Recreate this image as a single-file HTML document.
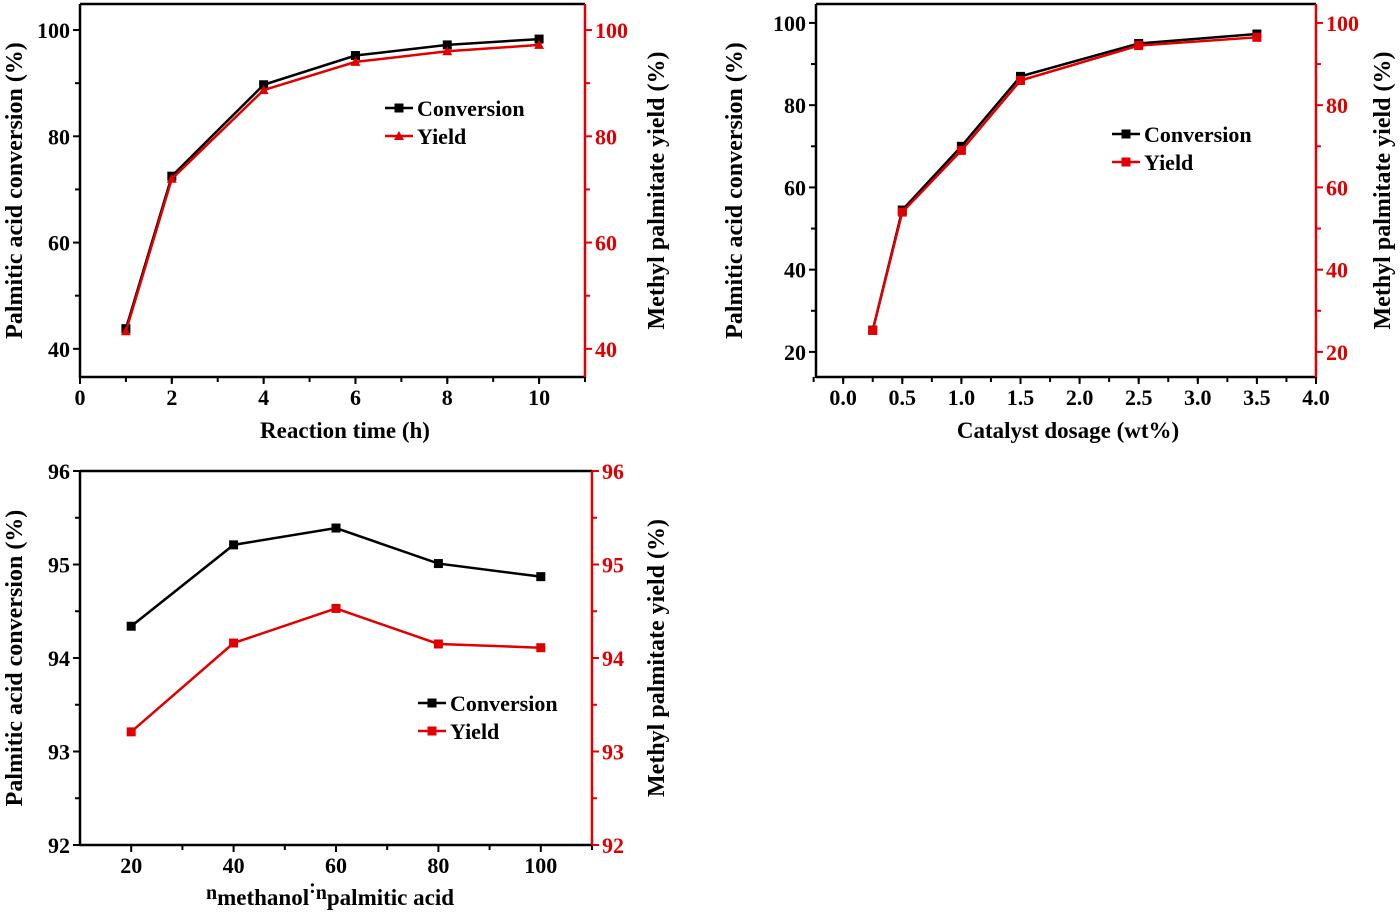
<!DOCTYPE html>
<html><head><meta charset="utf-8">
<style>
html,body{margin:0;padding:0;background:#fff;}
svg text{font-family:"Liberation Serif",serif;font-weight:bold;}
</style></head>
<body>
<svg id="root" width="1400" height="916" viewBox="0 0 1400 916" xmlns="http://www.w3.org/2000/svg"></svg>
<script>
// ---- Chart A: reaction time ----
const timeCats = [1, 2, 4, 6, 8, 10];
const timeConv = [43.8, 72.5, 89.7, 95.2, 97.2, 98.3];
const timeYield = [43.3, 72.0, 88.7, 94.0, 96.0, 97.2];
const timeXTicks = [0, 2, 4, 6, 8, 10];
const timeYTicks = [40, 60, 80, 100];
// ---- Chart B: catalyst dosage ----
const doseCats = [0.25, 0.5, 1.0, 1.5, 2.5, 3.5];
const doseConv = [25.3, 54.5, 70.0, 87.0, 95.0, 97.3];
const doseYield = [25.2, 54.0, 69.0, 86.0, 94.5, 96.5];
const doseXTicks = ["0.0","0.5","1.0","1.5","2.0","2.5","3.0","3.5","4.0"];
const doseYTicks = [20, 40, 60, 80, 100];
// ---- Chart C: molar ratio ----
const ratioCats = [20, 40, 60, 80, 100];
const ratioConv = [94.34, 95.21, 95.39, 95.01, 94.87];
const ratioYield = [93.21, 94.16, 94.53, 94.15, 94.11];
const ratioXTicks = [20, 40, 60, 80, 100];
const ratioYTicks = [92, 93, 94, 95, 96];

const NS = "http://www.w3.org/2000/svg";
const root = document.getElementById('root');
const RED = "#e00000";
function mk(tag, attrs, parent){
  const e = document.createElementNS(NS, tag);
  for (const k in attrs) e.setAttribute(k, attrs[k]);
  (parent||root).appendChild(e);
  return e;
}
function marker(g, shape, x, y, color){
  let m;
  if (shape === 'tri') {
    m = mk('polygon', {points:`${x},${y-5} ${x-5},${y+4} ${x+5},${y+4}`, fill:color}, g);
  } else {
    m = mk('rect', {x:x-4.5, y:y-4.5, width:9, height:9, fill:color}, g);
  }
  return m;
}
function chart(o){
  const g = mk('g', {});
  
  
  const L=o.L,R=o.R,T=o.T,B=o.B;
  const sx = v => L + (v - o.xmin) / (o.xmax - o.xmin) * (R - L);
  const sy = v => B - (v - o.ymin) / (o.ymax - o.ymin) * (B - T);
  mk('line',{x1:L,y1:T,x2:R,y2:T,stroke:'#000','stroke-width':2.5},g);
  const la = mk('line',{x1:L,y1:T,x2:L,y2:B+1,stroke:'#000','stroke-width':2.5},g);
   
  const xa = mk('line',{x1:L,y1:B,x2:R,y2:B,stroke:'#000','stroke-width':2.5},g);
   
  const ra = mk('line',{x1:R,y1:T,x2:R,y2:B+1,stroke:RED,'stroke-width':2.5},g);
   
  for (let v = o.xminor0; v <= o.xmax + 1e-9; v += o.xminor) {
    mk('line',{x1:sx(v),y1:B,x2:sx(v),y2:B+5,stroke:'#000','stroke-width':2},g);
  }
  o.xticks.forEach(t => {
    const v = parseFloat(t);
    mk('line',{x1:sx(v),y1:B,x2:sx(v),y2:B+7,stroke:'#000','stroke-width':2},g);
    const tx = mk('text',{x:sx(v),y:B+28,'text-anchor':'middle','font-size':22,fill:'#000'},g);
    tx.textContent = t;
     
  });
  for (let v = o.yminor0; v <= o.ymax + 1e-9; v += o.yminor) {
    mk('line',{x1:L,y1:sy(v),x2:L-5,y2:sy(v),stroke:'#000','stroke-width':2},g);
    mk('line',{x1:R,y1:sy(v),x2:R+5,y2:sy(v),stroke:RED,'stroke-width':2},g);
  }
  o.yticks.forEach(v => {
    mk('line',{x1:L,y1:sy(v),x2:L-7,y2:sy(v),stroke:'#000','stroke-width':2},g);
    mk('line',{x1:R,y1:sy(v),x2:R+7,y2:sy(v),stroke:RED,'stroke-width':2},g);
    const a = mk('text',{x:L-10,y:sy(v)+8,'text-anchor':'end','font-size':22,fill:'#000'},g);
    a.textContent = v;
     
    const b = mk('text',{x:R+10,y:sy(v)+8,'text-anchor':'start','font-size':22,fill:RED},g);
    b.textContent = v;
     
  });
  const series = [[o.conv,'#000','sq','conversion'],[o.yld,RED,o.yshape,'yield']];
  series.forEach(([vals,col,shape,nm]) => {
    const pts = o.cats.map((c,i)=>`${sx(c)},${sy(vals[i])}`).join(' ');
    const pl = mk('polyline',{points:pts,fill:'none',stroke:col,'stroke-width':2.5},g);
     
    o.cats.forEach((c,i)=>{
      const m = marker(g, shape, sx(c), sy(vals[i]), col);
       
    });
  });
  const lg = mk('g',{},g);
   
  [['Conversion','#000','sq',0],['Yield',RED,o.yshape,28]].forEach(([t,col,shape,dy])=>{
    const y = o.legY + dy;
    mk('line',{x1:o.legX,y1:y,x2:o.legX+28,y2:y,stroke:col,'stroke-width':2.5},lg);
    marker(lg, shape, o.legX+14, y, col);
    const tx = mk('text',{x:o.legX+32,y:y+8,'font-size':22,fill:'#000'},lg);
    tx.textContent = t;
     
  });
  const lt = mk('text',{x:0,y:0,'text-anchor':'middle','font-size':24,fill:'#000',transform:`translate(${o.ltx},${(T+B)/2}) rotate(-90)`},g);
  lt.textContent = 'Palmitic acid conversion (%)';
   
  const rt = mk('text',{x:0,y:0,'text-anchor':'middle','font-size':24,fill:'#000',transform:`translate(${o.rtx},${(T+B)/2}) rotate(-90)`},g);
  rt.textContent = 'Methyl palmitate yield (%)';
   
  const xt = mk('text',{x:o.xtx,y:B+61,'text-anchor':'middle','font-size':23,fill:'#000'},g);
  if (o.xtitle) xt.textContent = o.xtitle;
  else {
    const s = [['n',0],['methanol',6],[':',-6],['n',0],['palmitic acid',6]];
    s.forEach(([t,d],i)=>{
      const sp = mk('tspan',{dy: i===0 ? 0 : d - (s[i-1][1]), 'font-size': d>0?23:20},xt);
      sp.textContent = t;
    });
    xt.setAttribute('y', B+54);
  }
   
}
chart({name:'reaction-time-chart',L:80,R:585,T:4,B:377,xmin:0,xmax:11,ymin:34.7,ymax:104.9,
  xminor0:1,xminor:1,yminor0:50,yminor:20,xticks:timeXTicks.map(String),yticks:timeYTicks,
  cats:timeCats,conv:timeConv,yld:timeYield,yshape:'tri',legX:385,legY:108,
  ltx:22,rtx:664,xtx:345,xtitle:'Reaction time (h)'});
chart({name:'catalyst-dosage-chart',L:816,R:1316,T:4,B:377,xmin:-0.23,xmax:4.0,ymin:13.9,ymax:104.6,
  xminor0:-0.25,xminor:0.25,yminor0:30,yminor:20,xticks:doseXTicks,yticks:doseYTicks,
  cats:doseCats,conv:doseConv,yld:doseYield,yshape:'sq',legX:1112,legY:134,
  ltx:742,rtx:1390,xtx:1068,xtitle:'Catalyst dosage (wt%)'});
chart({name:'molar-ratio-chart',L:80,R:592,T:471,B:845,xmin:10,xmax:110,ymin:92,ymax:96,
  xminor0:30,xminor:20,yminor0:92.5,yminor:1,xticks:ratioXTicks.map(String),yticks:ratioYTicks,
  cats:ratioCats,conv:ratioConv,yld:ratioYield,yshape:'sq',legX:418,legY:703,
  ltx:22,rtx:664,xtx:330,xtitle:null});
</script>
</body></html>
